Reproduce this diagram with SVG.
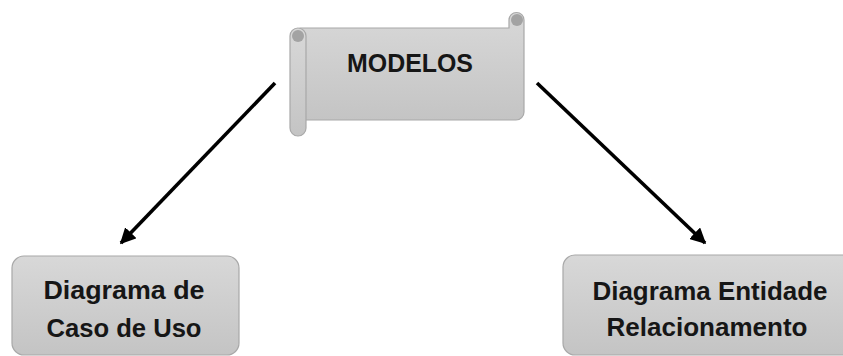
<svg xmlns="http://www.w3.org/2000/svg" width="843" height="356" viewBox="0 0 843 356">
  <defs>
    <linearGradient id="grayFill" x1="0" y1="0" x2="0" y2="1">
      <stop offset="0" stop-color="#d8d8d8"/>
      <stop offset="1" stop-color="#c4c4c4"/>
    </linearGradient>
    <marker id="arrowHead" viewBox="0 0 10 10" refX="9" refY="5" markerWidth="4.4" markerHeight="4.4" orient="auto" markerUnits="strokeWidth">
      <path d="M0,0 L10,5 L0,10 Z" fill="#000"/>
    </marker>
    <style>
      .shape { fill: url(#grayFill); stroke: #a8a8a8; stroke-width: 1.2; }
      .curl { fill: #a3a3a3; }
      .label { font-family: "Liberation Sans", Arial, sans-serif; font-weight: bold; fill: #161616; text-anchor: middle; }
      .conn { stroke: #000; stroke-width: 3.6; fill: none; marker-end: url(#arrowHead); }
    </style>
  </defs>

  <rect width="843" height="356" fill="#ffffff"/>

  <!-- connectors -->
  <g id="connectors">
    <line class="conn" x1="275" y1="83" x2="121" y2="243"/>
    <line class="conn" x1="537" y1="83" x2="705" y2="243"/>
  </g>

  <!-- scroll banner -->
  <g id="modelos">
    <path class="shape" d="M300 28 H509 V20 a7.5 7.5 0 0 1 15 0 V112 a8 8 0 0 1 -8 8 H300 Z"/>
    <rect class="shape" x="290" y="28" width="16" height="108" rx="8"/>
    <circle class="curl" cx="298" cy="36" r="6"/>
    <circle class="curl" cx="517" cy="20" r="6"/>
    <text class="label" x="410" y="72" font-size="26.5" textLength="126" lengthAdjust="spacingAndGlyphs">MODELOS</text>
  </g>

  <!-- left node -->
  <g id="caso-de-uso">
    <rect class="shape" x="12" y="256" width="227" height="99" rx="12"/>
    <text class="label" x="124" y="299" font-size="25" textLength="161" lengthAdjust="spacingAndGlyphs">Diagrama de</text>
    <text class="label" x="124" y="337" font-size="25.5" textLength="155" lengthAdjust="spacingAndGlyphs">Caso de Uso</text>
  </g>

  <!-- right node -->
  <g id="entidade-relacionamento">
    <rect class="shape" x="563" y="255" width="292" height="100" rx="12"/>
    <text class="label" x="710" y="300" font-size="25" textLength="235" lengthAdjust="spacingAndGlyphs">Diagrama Entidade</text>
    <text class="label" x="707" y="336" font-size="25" textLength="201" lengthAdjust="spacingAndGlyphs">Relacionamento</text>
  </g>
</svg>
